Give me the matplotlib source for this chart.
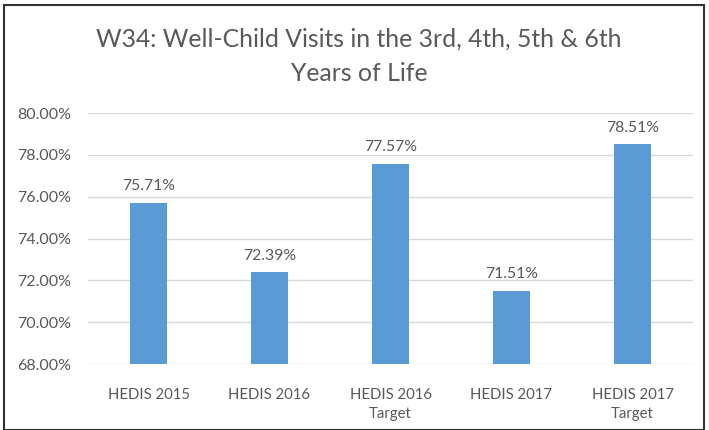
#!/usr/bin/env python3
import matplotlib
matplotlib.use('Agg')
import matplotlib.pyplot as plt
from matplotlib.patches import Rectangle
from matplotlib.ticker import FuncFormatter

categories = ['HEDIS 2015', 'HEDIS 2016', 'HEDIS 2016\nTarget', 'HEDIS 2017', 'HEDIS 2017\nTarget']
values = [75.71, 72.39, 77.57, 71.51, 78.51]
yticks = [68, 70, 72, 74, 76, 78, 80]

BAR = '#5B9BD5'
TXT = '#595959'
GRID = '#D9D9D9'


def main():
    plt.rcParams['font.family'] = ['Lato', 'DejaVu Sans']
    fig = plt.figure(figsize=(7.09, 4.30), dpi=100)
    ax = fig.add_axes([88/709, 1-364/430, 605/709, 251/430])

    x = range(len(categories))
    ax.bar(x, values, width=0.31, color=BAR, zorder=2)
    for i, v in zip(x, values):
        ax.text(i, v + 0.45, '%.2f%%' % v, ha='center', va='bottom',
                fontsize=11.3, color=TXT)

    ax.set_xlim(-0.5, len(categories) - 0.5)
    ax.set_ylim(68, 80)
    ax.set_yticks(yticks)
    ax.yaxis.set_major_formatter(FuncFormatter(lambda v, p: '%.2f%%' % v))
    ax.set_xticks(list(x))
    ax.set_xticklabels(categories, linespacing=1.45)
    ax.tick_params(axis='both', length=0, colors=TXT)
    ax.tick_params(axis='x', pad=17, labelsize=10.7)
    ax.tick_params(axis='y', pad=12, labelsize=11.5)
    ax.grid(axis='y', color=GRID, linewidth=1, zorder=0)
    for s in ax.spines.values():
        s.set_visible(False)

    fig.text(359/709, 1-47/430, 'W34: Well-Child Visits in the 3rd, 4th, 5th & 6th',
             ha='center', va='baseline', fontsize=17.8, color=TXT)
    fig.text(359/709, 1-81/430, 'Years of Life',
             ha='center', va='baseline', fontsize=17.8, color=TXT)

    fig.patches.append(Rectangle((4/709, 0), 700/709, 1-5/430, transform=fig.transFigure,
                                 fill=False, edgecolor='#333333', linewidth=1.5))

    fig.savefig('out.png', dpi=100)


if __name__ == '__main__':
    main()
